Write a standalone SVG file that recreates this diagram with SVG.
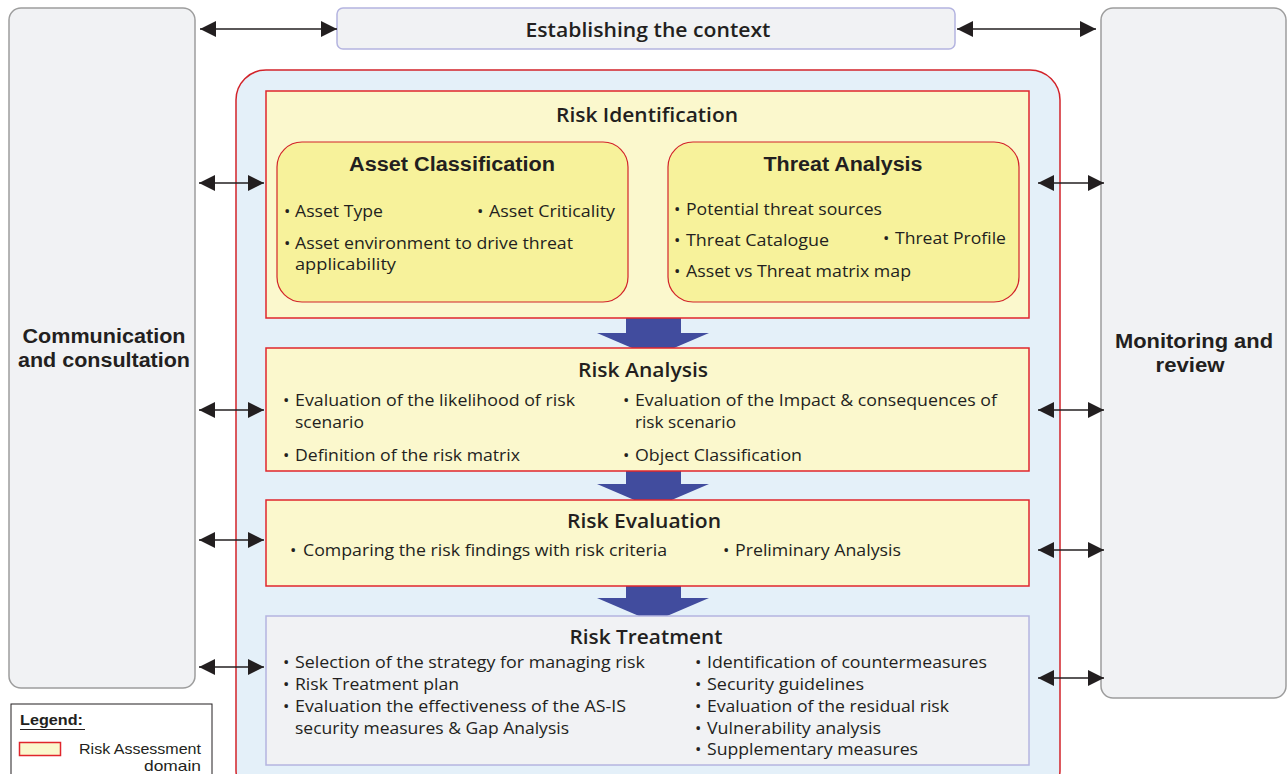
<svg xmlns="http://www.w3.org/2000/svg" width="1287" height="774" viewBox="0 0 1287 774">
<defs>
<marker id="ah" viewBox="0 0 10 10" refX="10" refY="5" markerWidth="18" markerHeight="16" markerUnits="userSpaceOnUse" orient="auto-start-reverse"><path d="M0,0 L10,5 L0,10 z" fill="#231f20"/></marker>
<style>
.side{fill:#f1f2f4;stroke:#9d9d9d;stroke-width:1.5}
.lav{fill:#f1f2f4;stroke:#b4b4e0;stroke-width:1.5}
.outer{fill:#e4f0f9;stroke:#d2232a;stroke-width:1.5}
.dom{fill:#fbf8cd;stroke:#e0262c;stroke-width:1.5}
.sub{fill:#f7f29b;stroke:#d2232a;stroke-width:1.2}
.blue{fill:#414c9e}
.conn{stroke:#231f20;stroke-width:1.5;fill:none;marker-start:url(#ah);marker-end:url(#ah)}
text{fill:#231f20;font-family:"Open Sans","Noto Sans",sans-serif}
.t{font-size:20px;font-weight:600;text-anchor:middle}
.s{font-family:"Liberation Sans",Arial,sans-serif;font-size:20px;font-weight:bold;text-anchor:middle}
.h{font-family:"Liberation Sans",Arial,sans-serif;font-size:20px;font-weight:bold;text-anchor:middle}
.b{font-size:17px}
.bl{font-size:17px}
.lg{font-family:"Liberation Sans",Arial,sans-serif;font-size:14.5px}
</style>
</defs>

<g id="communication">
<rect class="side" x="9" y="8" width="186" height="680" rx="12"/>
<text class="s" x="104" y="343" textLength="163" lengthAdjust="spacingAndGlyphs">Communication</text>
<text class="s" x="104" y="367" textLength="172" lengthAdjust="spacingAndGlyphs">and consultation</text>
</g>

<g id="monitoring">
<rect class="side" x="1101" y="8" width="185" height="690" rx="12"/>
<text class="s" x="1194" y="348" textLength="158" lengthAdjust="spacingAndGlyphs">Monitoring and</text>
<text class="s" x="1190" y="372" textLength="69" lengthAdjust="spacingAndGlyphs">review</text>
</g>

<g id="context">
<rect class="lav" x="337" y="8" width="618" height="41" rx="6"/>
<text class="t" x="648" y="37" textLength="245" lengthAdjust="spacingAndGlyphs">Establishing the context</text>
</g>

<g id="assessment">
<rect class="outer" x="236" y="70" width="824" height="730" rx="30"/>
</g>

<g id="flow-arrows">
<rect class="blue" x="626" y="310" width="55" height="24"/>
<polygon class="blue" points="597,333 709,333 653,357"/>
<rect class="blue" x="626" y="465" width="55" height="20"/>
<polygon class="blue" points="597,484 709,484 653,508"/>
<rect class="blue" x="626" y="580" width="55" height="19"/>
<polygon class="blue" points="597,598 709,598 653,622"/>
</g>

<g id="risk-identification">
<rect class="dom" x="266" y="91" width="763" height="227"/>
<text class="t" x="647" y="122" textLength="182" lengthAdjust="spacingAndGlyphs">Risk Identification</text>
</g>

<g id="asset-classification">
<rect class="sub" x="277" y="142" width="351" height="160" rx="25"/>
<text class="h" x="452" y="171" textLength="206" lengthAdjust="spacingAndGlyphs">Asset Classification</text>
<text class="bl" x="284" y="217">•</text>
<text class="b" x="295" y="217" textLength="88" lengthAdjust="spacingAndGlyphs">Asset Type</text>
<text class="bl" x="477" y="217">•</text>
<text class="b" x="489" y="217" textLength="126" lengthAdjust="spacingAndGlyphs">Asset Criticality</text>
<text class="bl" x="284" y="249">•</text>
<text class="b" x="295" y="249" textLength="278" lengthAdjust="spacingAndGlyphs">Asset environment to drive threat</text>
<text class="b" x="295" y="270" textLength="101" lengthAdjust="spacingAndGlyphs">applicability</text>
</g>

<g id="threat-analysis">
<rect class="sub" x="668" y="142" width="351" height="160" rx="25"/>
<text class="h" x="843" y="171" textLength="159" lengthAdjust="spacingAndGlyphs">Threat Analysis</text>
<text class="bl" x="674" y="215">•</text>
<text class="b" x="686" y="215" textLength="196" lengthAdjust="spacingAndGlyphs">Potential threat sources</text>
<text class="bl" x="674" y="246">•</text>
<text class="b" x="686" y="246" textLength="143" lengthAdjust="spacingAndGlyphs">Threat Catalogue</text>
<text class="bl" x="883" y="244">•</text>
<text class="b" x="895" y="244" textLength="111" lengthAdjust="spacingAndGlyphs">Threat Profile</text>
<text class="bl" x="674" y="277">•</text>
<text class="b" x="686" y="277" textLength="225" lengthAdjust="spacingAndGlyphs">Asset vs Threat matrix map</text>
</g>

<g id="risk-analysis">
<rect class="dom" x="266" y="348" width="763" height="123"/>
<text class="t" x="643" y="377" textLength="130" lengthAdjust="spacingAndGlyphs">Risk Analysis</text>
<text class="bl" x="283" y="406">•</text>
<text class="b" x="295" y="406" textLength="280" lengthAdjust="spacingAndGlyphs">Evaluation of the likelihood of risk</text>
<text class="b" x="295" y="428" textLength="69" lengthAdjust="spacingAndGlyphs">scenario</text>
<text class="bl" x="623" y="406">•</text>
<text class="b" x="635" y="406" textLength="362" lengthAdjust="spacingAndGlyphs">Evaluation of the Impact &amp; consequences of</text>
<text class="b" x="635" y="428" textLength="101" lengthAdjust="spacingAndGlyphs">risk scenario</text>
<text class="bl" x="283" y="461">•</text>
<text class="b" x="295" y="461" textLength="225" lengthAdjust="spacingAndGlyphs">Definition of the risk matrix</text>
<text class="bl" x="623" y="461">•</text>
<text class="b" x="635" y="461" textLength="167" lengthAdjust="spacingAndGlyphs">Object Classification</text>
</g>

<g id="risk-evaluation">
<rect class="dom" x="266" y="500" width="763" height="86"/>
<text class="t" x="644" y="528" textLength="154" lengthAdjust="spacingAndGlyphs">Risk Evaluation</text>
<text class="bl" x="290" y="556">•</text>
<text class="b" x="303" y="556" textLength="364" lengthAdjust="spacingAndGlyphs">Comparing the risk findings with risk criteria</text>
<text class="bl" x="723" y="556">•</text>
<text class="b" x="735" y="556" textLength="166" lengthAdjust="spacingAndGlyphs">Preliminary Analysis</text>
</g>

<g id="risk-treatment">
<rect class="lav" x="266" y="616" width="763" height="149"/>
<text class="t" x="646" y="644" textLength="153" lengthAdjust="spacingAndGlyphs">Risk Treatment</text>
<text class="bl" x="283" y="668">•</text>
<text class="b" x="295" y="668" textLength="350" lengthAdjust="spacingAndGlyphs">Selection of the strategy for managing risk</text>
<text class="bl" x="283" y="690">•</text>
<text class="b" x="295" y="690" textLength="164" lengthAdjust="spacingAndGlyphs">Risk Treatment plan</text>
<text class="bl" x="283" y="712">•</text>
<text class="b" x="295" y="712" textLength="331" lengthAdjust="spacingAndGlyphs">Evaluation the effectiveness of the AS-IS</text>
<text class="b" x="295" y="734" textLength="274" lengthAdjust="spacingAndGlyphs">security measures &amp; Gap Analysis</text>
<text class="bl" x="695" y="668">•</text>
<text class="b" x="707" y="668" textLength="280" lengthAdjust="spacingAndGlyphs">Identification of countermeasures</text>
<text class="bl" x="695" y="690">•</text>
<text class="b" x="707" y="690" textLength="157" lengthAdjust="spacingAndGlyphs">Security guidelines</text>
<text class="bl" x="695" y="712">•</text>
<text class="b" x="707" y="712" textLength="242" lengthAdjust="spacingAndGlyphs">Evaluation of the residual risk</text>
<text class="bl" x="695" y="734">•</text>
<text class="b" x="707" y="734" textLength="174" lengthAdjust="spacingAndGlyphs">Vulnerability analysis</text>
<text class="bl" x="695" y="755">•</text>
<text class="b" x="707" y="755" textLength="211" lengthAdjust="spacingAndGlyphs">Supplementary measures</text>
</g>

<g id="connectors">
<line class="conn" x1="200" y1="29" x2="337" y2="29"/>
<line class="conn" x1="957" y1="29" x2="1096" y2="29"/>
<line class="conn" x1="199" y1="183" x2="264" y2="183"/>
<line class="conn" x1="199" y1="410" x2="264" y2="410"/>
<line class="conn" x1="199" y1="540" x2="264" y2="540"/>
<line class="conn" x1="199" y1="667" x2="264" y2="667"/>
<line class="conn" x1="1038" y1="183" x2="1104" y2="183"/>
<line class="conn" x1="1038" y1="410" x2="1104" y2="410"/>
<line class="conn" x1="1038" y1="550" x2="1104" y2="550"/>
<line class="conn" x1="1038" y1="678" x2="1104" y2="678"/>
</g>

<g id="legend">
<rect x="11" y="704" width="201" height="80" fill="#ffffff" stroke="#231f20" stroke-width="1"/>
<text class="lg" x="20" y="725" font-weight="700" textLength="63" lengthAdjust="spacingAndGlyphs">Legend:</text>
<line x1="20" y1="729.5" x2="85" y2="729.5" stroke="#231f20" stroke-width="1.2"/>
<rect class="dom" x="19.5" y="742.5" width="41" height="13"/>
<text class="lg" x="201" y="754" text-anchor="end" textLength="122" lengthAdjust="spacingAndGlyphs">Risk Assessment</text>
<text class="lg" x="201" y="771" text-anchor="end" textLength="57" lengthAdjust="spacingAndGlyphs">domain</text>
</g>
</svg>
